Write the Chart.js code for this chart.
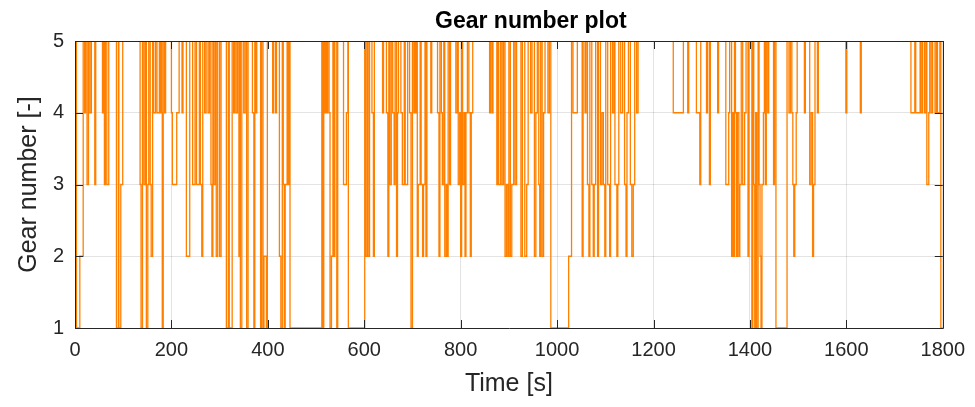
<!DOCTYPE html>
<html>
<head>
<meta charset="utf-8">
<script src="https://cdn.jsdelivr.net/npm/chart.js@4"></script>
<style>
  html, body { margin: 0; padding: 0; background: #fff; }
  #wrap { width: 975px; height: 407px; }
</style>
</head>
<body>
<div id="wrap"><canvas id="gear"></canvas></div>
<script>
// change points of the gear signal: time [s] and the gear engaged from that time on
const timeSec = [
  0, 3, 10, 17, 20, 22, 25, 28, 31, 34, 41, 43, 57, 59, 61, 63, 66, 70, 86, 90, 91, 95, 99,
  135, 137, 140, 143, 146, 148, 151, 153, 156, 158, 161, 163, 167, 170, 175,
  176, 178, 180, 181, 183, 186, 188, 200, 202, 211, 216, 222, 224, 231, 238, 244, 249, 252,
  258, 260, 263, 265, 269, 272, 276, 279, 282, 284, 286, 288, 291, 293, 296, 300, 303, 314,
  318, 320, 326, 329, 331, 334, 337, 340, 342,
  343, 346, 350, 353, 356, 359, 368, 371, 373, 375, 377, 385, 387, 390, 392, 397, 399, 410,
  412, 416, 418, 424, 427, 430, 432, 434, 436, 440, 442, 444, 446, 512, 514, 516, 518, 520,
  522, 524, 527, 529, 532, 535, 537, 539, 543, 545, 557, 563, 566, 567, 601, 603, 606, 608,
  611, 616, 619, 621, 638, 640, 646, 649, 651, 653, 656, 659, 662, 664, 667, 669, 671, 676,
  679, 683, 685, 690, 694, 697, 700, 703, 705,
  706, 708, 710, 712, 716, 718, 721, 723, 726, 728, 730, 738, 740, 752, 755, 757, 760, 762,
  765, 767, 770, 772, 774, 777, 779, 790, 793, 795, 798, 800, 802, 804, 807, 809, 811, 814,
  817, 820, 822, 825, 860, 862, 865, 867, 875, 877,
  879, 883, 886, 889, 892, 895, 898, 900, 903, 906, 910, 913, 916, 925, 928, 933, 937, 940,
  945, 948, 953, 956, 959, 962, 964, 966, 969, 972, 975, 981, 984, 987, 1024, 1030, 1033,
  1042, 1052, 1054,
  1058, 1060, 1063, 1066, 1068, 1072, 1075, 1077, 1080, 1084, 1086, 1090, 1093, 1096, 1099,
  1101, 1105, 1109, 1111, 1115, 1118, 1120, 1124, 1126, 1128, 1132, 1136, 1140, 1143, 1145,
  1148, 1152, 1155, 1158, 1161, 1165, 1168,
  1241, 1262, 1271, 1273, 1289, 1296, 1298, 1310, 1312, 1316, 1318, 1333, 1335, 1350, 1356,
  1358, 1362, 1364, 1366, 1368, 1370, 1372, 1374, 1377, 1379, 1382, 1385, 1389, 1392, 1396,
  1398, 1404, 1406,
  1408, 1410, 1412, 1414, 1417, 1419, 1421, 1423, 1425, 1428, 1430, 1432, 1434, 1437, 1439,
  1449, 1451, 1454, 1477, 1481, 1484, 1487, 1489, 1491, 1493, 1496, 1498, 1513, 1515, 1524,
  1527, 1530, 1532, 1535, 1540, 1542,
  1599, 1601, 1629, 1631, 1734, 1742, 1744, 1753, 1755, 1758, 1762, 1765, 1767, 1771, 1773,
  1776, 1779, 1784, 1787, 1789, 1794, 1796, 1800
];
const gearNo = [
  5, 1, 2, 5, 4, 5, 3, 5, 4, 5, 3, 5, 4, 5, 3, 5, 3, 5, 1, 5, 1, 3, 5,
  3, 1, 5, 3, 5, 1, 3, 5, 3, 2, 5, 4, 5, 4, 5,
  4, 5, 4, 1, 5, 4, 5, 4, 3, 4, 5, 4, 5, 2, 5, 3, 5, 3,
  5, 3, 2, 5, 4, 5, 4, 5, 3, 2, 5, 3, 5, 2, 5, 2, 5, 1,
  5, 1, 5, 4, 5, 4, 5, 2, 5,
  1, 5, 4, 5, 1, 5, 4, 1, 5, 4, 5, 1, 5, 1, 2, 1, 5, 4,
  5, 4, 5, 2, 1, 5, 3, 1, 3, 5, 3, 5, 1, 5, 1, 5, 4, 5,
  4, 5, 4, 1, 2, 5, 2, 5, 1, 5, 3, 4, 5, 1, 5, 2, 5, 2,
  5, 4, 2, 5, 4, 5, 4, 2, 5, 3, 5, 4, 3, 5, 2, 4, 5, 4,
  3, 5, 3, 5, 4, 1, 5, 4, 5,
  4, 5, 2, 3, 5, 3, 2, 3, 5, 2, 5, 4, 5, 4, 2, 5, 4, 3,
  5, 2, 3, 2, 5, 3, 5, 4, 5, 3, 4, 2, 5, 3, 4, 2, 4, 5,
  4, 2, 4, 5, 4, 5, 4, 5, 3, 5,
  3, 5, 3, 5, 2, 3, 2, 5, 2, 3, 5, 3, 5, 2, 5, 2, 3, 5,
  4, 5, 2, 4, 5, 3, 2, 5, 2, 4, 5, 4, 5, 1, 2, 5, 4,
  5, 2, 5,
  4, 5, 3, 2, 5, 3, 2, 3, 5, 2, 5, 3, 4, 3, 2,
  5, 3, 2, 5, 4, 5, 3, 2, 3, 5, 4, 5, 3, 2, 4,
  5, 3, 2, 3, 5, 4, 5,
  4, 5, 4, 5, 4, 3, 5, 4, 5, 3, 5, 4, 5, 3, 4,
  5, 2, 4, 2, 5, 4, 2, 4, 2, 3, 5, 3, 4, 5, 2,
  5, 1, 5,
  3, 1, 4, 1, 5, 3, 2, 1, 3, 4, 5, 3, 5, 4, 5,
  3, 5, 1, 5, 4, 5, 4, 3, 2, 3, 4, 5, 4, 5, 3,
  4, 2, 3, 5, 4, 5,
  4, 5, 4, 5, 4, 5, 4, 5, 4, 5, 4, 5, 3, 4, 5,
  4, 5, 4, 5, 4, 5, 1, 1
];
const xTicks = [0, 200, 400, 600, 800, 1000, 1200, 1400, 1600, 1800];
const yTicks = [1, 2, 3, 4, 5];

const fontFam = '"Liberation Sans", Arial, Helvetica, sans-serif';
const axisInk = '#262626';

// box, inward ticks and the title, like a matlab axes
const matlabAxes = {
  id: 'matlabAxes',
  afterDraw(chart) {
    const { ctx, chartArea: a, scales } = chart;
    ctx.save();
    ctx.strokeStyle = axisInk;
    ctx.lineWidth = 1;
    ctx.beginPath();
    ctx.rect(Math.round(a.left) + 0.5, Math.round(a.top) + 0.5,
      Math.round(a.width), Math.round(a.height));
    xTicks.forEach((v) => {
      const px = Math.round(scales.x.getPixelForValue(v)) + 0.5;
      ctx.moveTo(px, a.bottom); ctx.lineTo(px, a.bottom - 8);
      ctx.moveTo(px, a.top); ctx.lineTo(px, a.top + 8);
    });
    yTicks.forEach((v) => {
      const py = Math.round(scales.y.getPixelForValue(v)) + 0.5;
      ctx.moveTo(a.left, py); ctx.lineTo(a.left + 8, py);
      ctx.moveTo(a.right, py); ctx.lineTo(a.right - 8, py);
    });
    ctx.stroke();

    ctx.fillStyle = '#000';
    ctx.font = 'bold 23px ' + fontFam;
    ctx.textAlign = 'center';
    ctx.textBaseline = 'middle';
    ctx.fillText('Gear number plot', (a.left + a.right) / 2 + 22, 22);
    ctx.restore();
  },
};

const points = timeSec.map((t, i) => ({ x: t, y: gearNo[i] }));

new Chart(document.getElementById('gear'), {
  type: 'line',
  data: {
    datasets: [{
      label: 'gear',
      data: points,
      stepped: true,
      borderColor: '#ff8000',
      borderWidth: 1.3,
      pointRadius: 0,
      fill: false,
    }],
  },
  options: {
    responsive: true,
    maintainAspectRatio: false,
    animation: false,
    layout: { padding: { top: 41, right: 32, left: 0, bottom: 0 } },
    plugins: {
      legend: { display: false },
      tooltip: { enabled: false },
    },
    scales: {
      x: {
        type: 'linear',
        min: 0,
        max: 1800,
        afterBuildTicks: (s) => { s.ticks = xTicks.map((v) => ({ value: v })); },
        afterFit: (s) => { s.height = 79; },
        ticks: {
          color: axisInk, font: { family: fontFam, size: 20 }, padding: 10, maxRotation: 0,
          callback: (v) => String(v),
        },
        grid: { color: 'rgba(38,38,38,0.13)', drawTicks: false },
        border: { display: false },
        title: {
          display: true, text: 'Time [s]', color: axisInk,
          font: { family: fontFam, size: 25 }, padding: { top: 0, bottom: 8 },
        },
      },
      y: {
        min: 1,
        max: 5,
        afterBuildTicks: (s) => { s.ticks = yTicks.map((v) => ({ value: v })); },
        afterFit: (s) => { s.width = 75; },
        ticks: {
          color: axisInk, font: { family: fontFam, size: 20 }, padding: 11,
          callback: (v) => String(v),
        },
        grid: { color: 'rgba(38,38,38,0.13)', drawTicks: false },
        border: { display: false },
        title: {
          display: true, text: 'Gear number [-]', color: axisInk,
          font: { family: fontFam, size: 25 }, padding: { top: 14, bottom: 0 },
        },
      },
    },
  },
  plugins: [matlabAxes],
});
</script>
</body>
</html>
